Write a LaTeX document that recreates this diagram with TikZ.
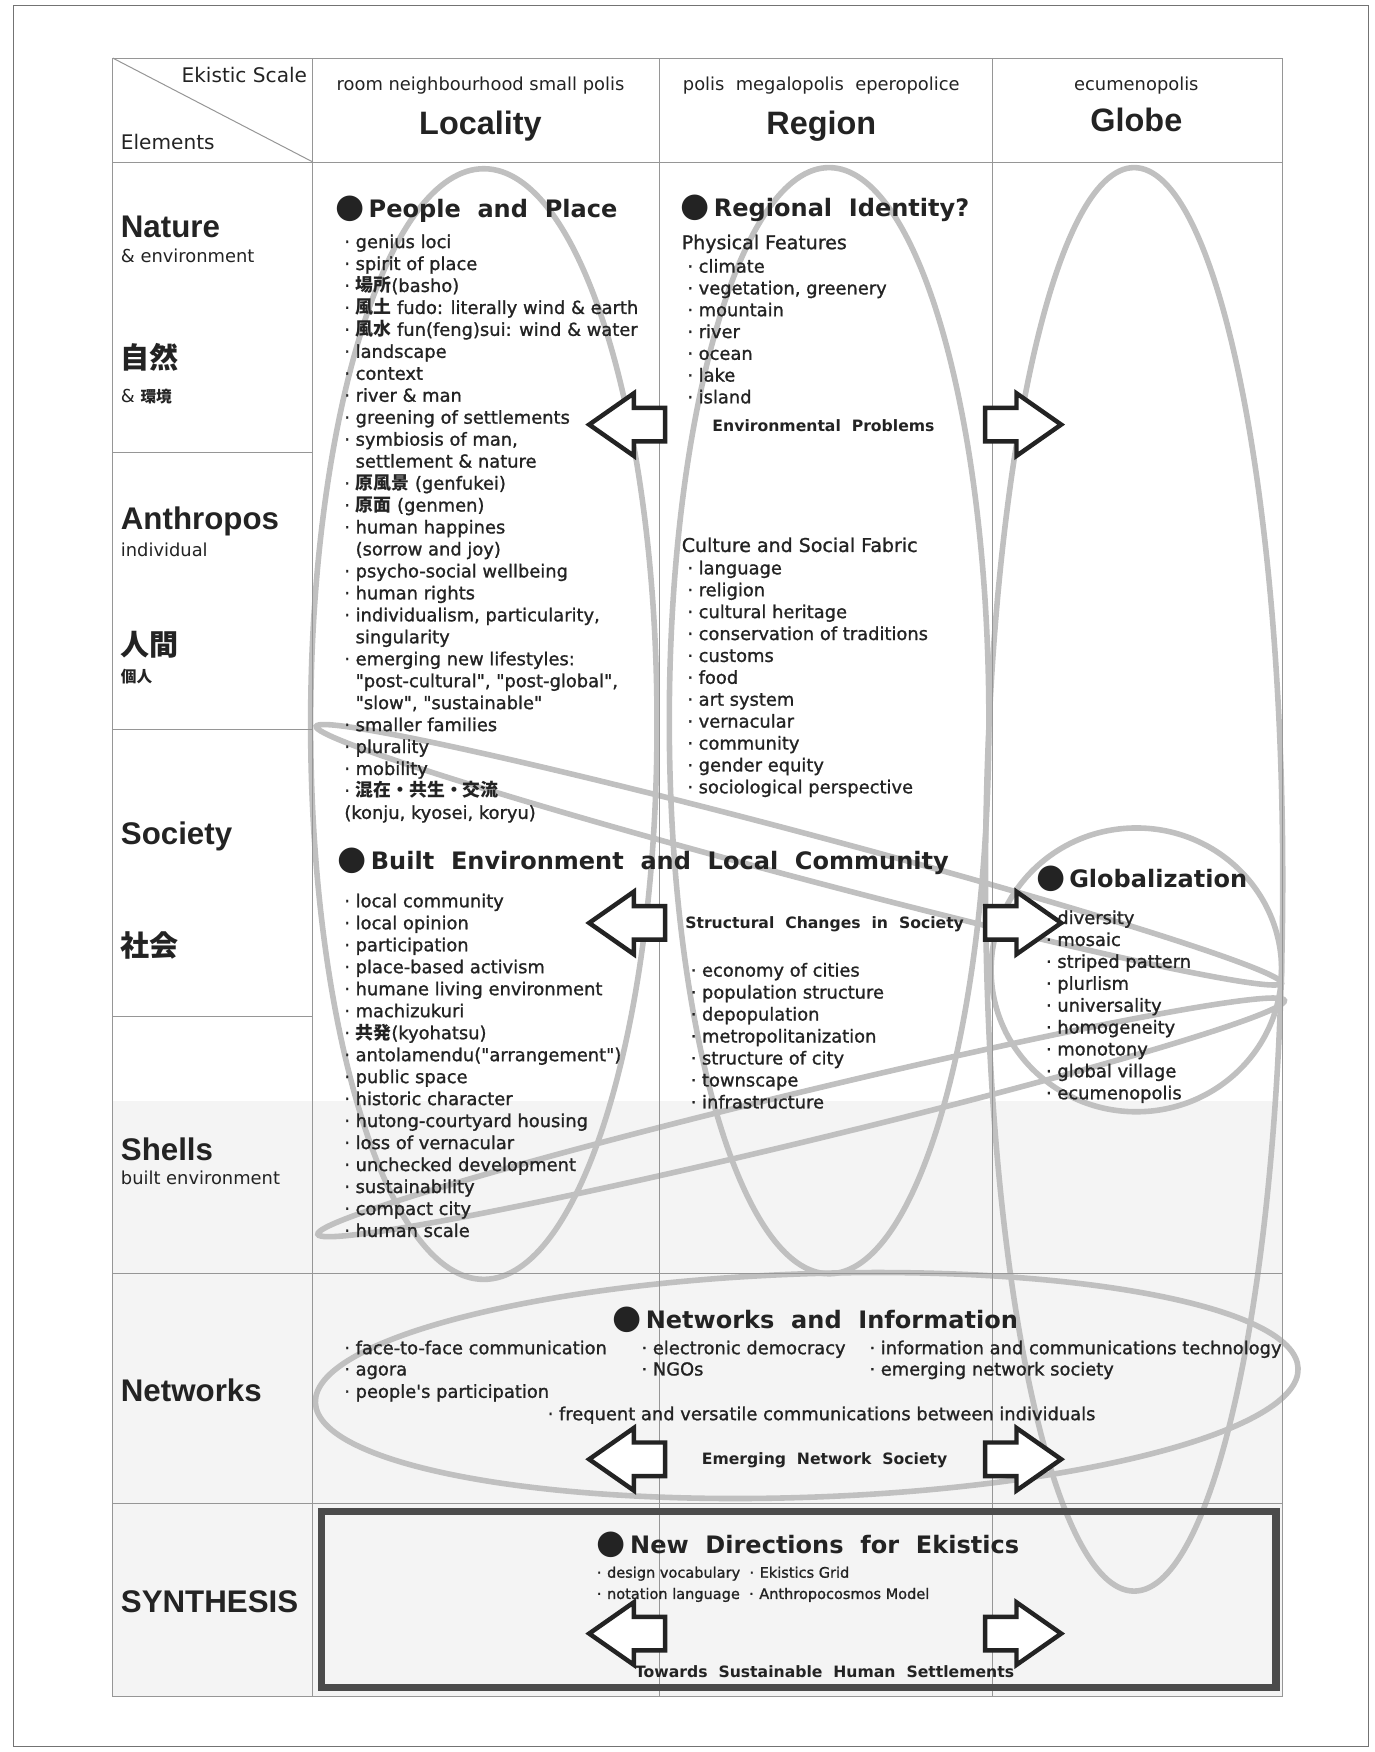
\documentclass[tikz,border=0pt]{standalone}
\usepackage{fontspec}
\setmainfont{DejaVu Sans}
\newfontfamily\labfont{Liberation Sans}
\newfontfamily\listfont{DejaVu Sans}[BoldFont=DejaVu Sans, BoldFeatures={FakeBold=1.2}]
\newfontfamily\jpfont{Noto Sans CJK JP}
\usetikzlibrary{shapes.arrows}
\definecolor{InkGray}{RGB}{35,35,35}
\definecolor{BandGray}{RGB}{192,192,192}
\definecolor{GridGray}{RGB}{150,150,150}
\definecolor{ShadeGray}{RGB}{244,244,244}
\definecolor{FrameGray}{RGB}{75,75,75}
\newcommand{\itb}{{\fontseries{b}\selectfont·}\hspace{5pt}}
\newcommand{\hdot}{{\fontsize{30}{30}\selectfont●}}
\newcommand{\qq}[1]{\textquotedbl#1\textquotedbl}
\tikzset{
  band/.style={draw=BandGray, line width=5pt},
  gridline/.style={draw=GridGray, line width=0.9pt},
  rowlab/.style={anchor=base west, inner sep=0pt, text=InkGray, font=\labfont\bfseries\fontsize{28}{30}\selectfont},
  rowsub/.style={anchor=base west, inner sep=0pt, text=InkGray, font=\fontsize{16}{18}\selectfont},
  jplab/.style={anchor=base west, inner sep=0pt, text=InkGray, font=\jpfont\bfseries\fontsize{26}{28}\selectfont},
  jpsub/.style={anchor=base west, inner sep=0pt, text=InkGray, font=\jpfont\bfseries\fontsize{14}{16}\selectfont},
  colsub/.style={anchor=base, inner sep=0pt, text=InkGray, font=\fontsize{16}{18}\selectfont},
  colhead/.style={anchor=base, inner sep=0pt, text=InkGray, font=\labfont\bfseries\fontsize{29}{30}\selectfont},
  sechead/.style={anchor=base west, inner sep=0pt, text=InkGray, font=\bfseries\fontsize{21.5}{24}\selectfont},
  subhead/.style={anchor=base west, inner sep=0pt, text=InkGray, font=\listfont\bfseries\fontsize{17}{19}\selectfont},
  item/.style={anchor=base west, inner sep=0pt, text=InkGray, font=\listfont\bfseries\fontsize{16}{18}\selectfont},
  synitem/.style={item, font=\listfont\bfseries\fontsize{13}{16}\selectfont},
  flowlab/.style={anchor=base, inner sep=0pt, text=InkGray, font=\bfseries\fontsize{14}{16}\selectfont},
  blockarrow/.style={single arrow, draw=InkGray, line width=4pt, fill=white, minimum height=68pt,
    inner xsep=0pt, inner ysep=13pt, single arrow head extend=13pt, single arrow tip angle=70},
  leftarrow/.style={blockarrow, shape border rotate=180},
}

\begin{document}
\begin{tikzpicture}[x=1pt, y=-1pt]
  \useasboundingbox (0,0) rectangle (1230,1568);
  \draw[black!55, line width=0.8pt] (12,5) rectangle (1225,1563);
  \fill[ShadeGray] (101,985) rectangle (1148,1518);

  \draw[band] (433,648) ellipse [x radius=155pt, y radius=497pt];
  \draw[band] (742,645) ellipse [x radius=143pt, y radius=495pt];
  \draw[band] (1015,787) ellipse [x radius=133pt, y radius=637pt];
  \draw[band] (1017,868) ellipse [x radius=130pt, y radius=127pt];
  \draw[band, rotate around={2:(722,1240)}] (722,1240) ellipse [x radius=440pt, y radius=100pt];
  \draw[band, rotate around={-14.9:(715,765)}] (715,765) ellipse [x radius=447pt, y radius=20pt];
  \draw[band, rotate around={13.6:(717,1000)}] (717,1000) ellipse [x radius=445pt, y radius=22pt];

  \draw[gridline] (101,52) rectangle (1148,1518);
  \foreach \xx in {280,590,888} \draw[gridline] (\xx,52) -- (\xx,1518);
  \foreach \yy in {145,1140,1346} \draw[gridline] (101,\yy) -- (1148,\yy);
  \foreach \yy in {405,653,910} \draw[gridline] (101,\yy) -- (280,\yy);
  \draw[gridline] (101,52) -- (280,145);

  \node[anchor=base east, inner sep=0pt, text=InkGray, font=\fontsize{18}{20}\selectfont] (scale) at (275,74) {Ekistic Scale};
  \node[anchor=base west, inner sep=0pt, text=InkGray, font=\fontsize{18}{20}\selectfont] (elem) at (108,134) {Elements};
  \node[colsub] (locsub) at (430,81) {room neighbourhood small polis};
  \node[colhead] (loc) at (430,120) {Locality};
  \node[colsub] (regsub) at (735,81) {polis~ megalopolis~ eperopolice};
  \node[colhead] (reg) at (735,120) {Region};
  \node[colsub] (glosub) at (1017,81) {ecumenopolis};
  \node[colhead] (glo) at (1017,118) {Globe};

  \node[rowlab] (nature) at (108,213) {Nature};
  \node[rowsub] (naturesub) at (108,235) {\& environment};
  \node[jplab] (naturejp) at (108,330) {自然};
  \node[rowsub] (naturejpsub) at (108,360) {\& {\jpfont\bfseries\fontsize{14}{16}\selectfont 環境}};
  \node[rowlab] (anthro) at (108,474) {Anthropos};
  \node[rowsub] (anthrosub) at (108,498) {individual};
  \node[jplab] (anthrojp) at (108,587) {人間};
  \node[jpsub] (anthrojpsub) at (108,611) {個人};
  \node[rowlab] (society) at (108,756) {Society};
  \node[jplab] (societyjp) at (108,856) {社会};
  \node[rowlab] (shells) at (108,1039) {Shells};
  \node[rowsub] (shellssub) at (108,1060) {built environment};
  \node[rowlab] (networks) at (108,1254) {Networks};
  \node[rowlab] (synthesis) at (108,1443) {SYNTHESIS};

  \node[sechead] (people) at (300,195) {\hdot\,People~ and~ Place};
  \foreach \txt [count=\i from 0] in {{\itb genius loci}, {\itb spirit of place}, {\itb{\jpfont 場所}(basho)},
      {\itb{\jpfont 風土} fudo: literally wind \& earth}, {\itb{\jpfont 風水} fun(feng)sui: wind \& water},
      {\itb landscape}, {\itb context}, {\itb river \& man}, {\itb greening of settlements},
      {\itb symbiosis of man,}, {\hphantom{\itb}settlement \& nature}, {\itb{\jpfont 原風景} (genfukei)},
      {\itb{\jpfont 原面} (genmen)}, {\itb human happines}, {\hphantom{\itb}(sorrow and joy)},
      {\itb psycho-social wellbeing}, {\itb human rights}, {\itb individualism, particularity,},
      {\hphantom{\itb}singularity}, {\itb emerging new lifestyles:},
      {\hphantom{\itb}\qq{post-cultural}, \qq{post-global},}, {\hphantom{\itb}\qq{slow}, \qq{sustainable}},
      {\itb smaller families}, {\itb plurality}, {\itb mobility}, {\itb{\jpfont 混在・共生・交流}},
      {(konju, kyosei, koryu)}}
    \node[item] (pp\i) at (308,222+19.65*\i) {\txt};

  \node[sechead] (identity) at (609,194) {\hdot\,Regional~ Identity?};
  \node[subhead] (physical) at (610,223) {Physical Features};
  \foreach \txt [count=\i from 0] in {climate, {vegetation, greenery}, mountain, river, ocean, lake, island}
    \node[item] (ph\i) at (615,244+19.5*\i) {\itb\txt};
  \node[flowlab] (envprob) at (737,386) {Environmental~ Problems};
  \node[subhead] (culture) at (610,494) {Culture and Social Fabric};
  \foreach \txt [count=\i from 0] in {language, religion, cultural heritage, conservation of traditions, customs,
      food, art system, vernacular, community, gender equity, sociological perspective}
    \node[item] (cu\i) at (615,514+19.6*\i) {\itb\txt};

  \node[sechead] (built) at (302,778) {\hdot\,Built~ Environment~ and~ Local~ Community};
  \foreach \txt [count=\i from 0] in {local community, local opinion, participation, place-based activism,
      humane living environment, machizukuri, {{\jpfont 共発}(kyohatsu)}, antolamendu(\qq{arrangement}),
      public space, historic character, hutong-courtyard housing, loss of vernacular,
      unchecked development, sustainability, compact city, human scale}
    \node[item] (be\i) at (308,812+19.67*\i) {\itb\txt};
  \node[flowlab] (structural) at (738,831) {Structural~ Changes~ in~ Society};
  \foreach \txt [count=\i from 0] in {economy of cities, population structure, depopulation,
      metropolitanization, structure of city, townscape, infrastructure}
    \node[item] (sc\i) at (618,874+19.67*\i) {\itb\txt};

  \node[sechead] (global) at (927,794) {\hdot\,Globalization};
  \foreach \txt [count=\i from 0] in {diversity, mosaic, striped pattern, plurlism, universality,
      homogeneity, monotony, global village, ecumenopolis}
    \node[item] (gl\i) at (936,827+19.6*\i) {\itb\txt};

  \node[sechead] (netinfo) at (548,1189) {\hdot\,Networks~ and~ Information};
  \node[item] (net1) at (308,1212) {\itb face-to-face communication};
  \node[item] (net2) at (308,1231) {\itb agora};
  \node[item] (net3) at (308,1251) {\itb people's participation};
  \node[item] (net4) at (574,1212) {\itb electronic democracy};
  \node[item] (net5) at (574,1231) {\itb NGOs};
  \node[item] (net6) at (778,1212) {\itb information and communications technology};
  \node[item] (net7) at (778,1231) {\itb emerging network society};
  \node[item] (net8) at (490,1271) {\itb frequent and versatile communications between individuals};
  \node[flowlab] (emerging) at (738,1311) {Emerging~ Network~ Society};

  \draw[draw=FrameGray, line width=6.5pt] (288,1353) rectangle (1142,1510);
  \node[sechead] (newdir) at (534,1390) {\hdot\,New~ Directions~ for~ Ekistics};
  \node[synitem] (syn1) at (534,1412) {\itb design vocabulary~ \itb Ekistics Grid};
  \node[synitem] (syn2) at (534,1431) {\itb notation language~ \itb Anthropocosmos Model};
  \node[flowlab] (towards) at (738,1501) {Towards~ Sustainable~ Human~ Settlements};

  \node[leftarrow] (envL) at (572,380) {};
  \node[blockarrow] (envR) at (905,380) {};
  \node[leftarrow] (socL) at (572,826) {};
  \node[blockarrow] (socR) at (905,826) {};
  \node[leftarrow] (netL) at (572,1306) {};
  \node[blockarrow] (netR) at (905,1306) {};
  \node[leftarrow] (synL) at (572,1462) {};
  \node[blockarrow] (synR) at (905,1462) {};
\end{tikzpicture}
\end{document}
